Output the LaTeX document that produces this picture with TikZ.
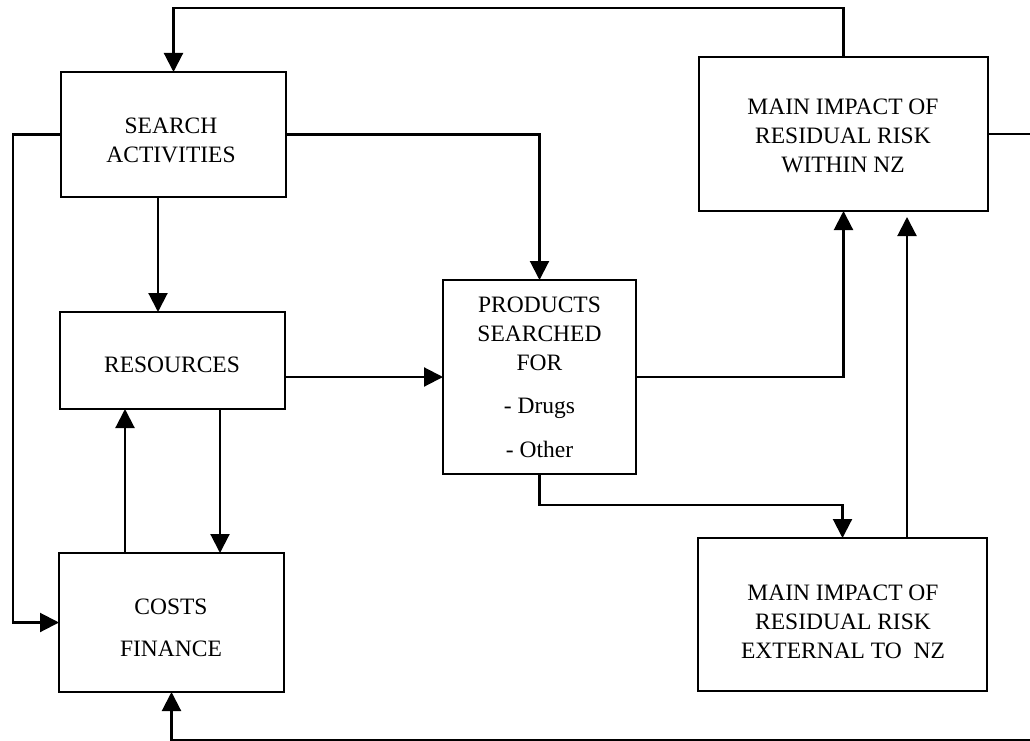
\documentclass[tikz,border=0pt]{standalone}
\usepackage{fontspec}
\setmainfont{Liberation Serif}
\usetikzlibrary{arrows.meta}
\begin{document}
\begin{tikzpicture}[x=1pt,y=-1pt,
  box/.style={draw, line width=2.1pt, inner sep=0pt, outer sep=0pt},
  txt/.style={align=center, inner sep=0pt, font=\fontsize{23.5}{29}\selectfont},
  arr/.style={line width=2.1pt, -{Triangle[length=19pt,width=19pt]}}]
\fill[white] (0,0) rectangle (1030,741);
\useasboundingbox (0,0) rectangle (1030,741);

% boxes
\node[box, minimum width=225pt, minimum height=125pt] (search) at (173.5,134.5) {};
\node[box, minimum width=225pt, minimum height=97pt] (resources) at (172.5,360.5) {};
\node[box, minimum width=225pt, minimum height=139pt] (costs) at (171.5,622.5) {};
\node[box, minimum width=193pt, minimum height=194pt] (products) at (539.5,377) {};
\node[box, minimum width=289pt, minimum height=154pt] (within) at (843.5,134) {};
\node[box, minimum width=289pt, minimum height=153pt] (external) at (842.5,614.5) {};

% texts
\node[txt] (searchT) at (171,140.5) {SEARCH\\ACTIVITIES};
\node[txt] (resourcesT) at (172,365) {RESOURCES};
\node[txt] (costsT) at (171,627.5) {COSTS\\[13pt]FINANCE};
\node[txt] (productsT) at (539.5,377.5) {PRODUCTS\\SEARCHED\\FOR\\[14pt]- Drugs\\[15pt]- Other};
\node[txt] (withinT) at (843,136) {MAIN IMPACT OF\\RESIDUAL RISK\\WITHIN NZ};
\node[txt] (externalT) at (843,621.5) {MAIN IMPACT OF\\RESIDUAL RISK\\EXTERNAL TO\ \ NZ};

% helper coordinates
\coordinate (topY) at (0,8);
\coordinate (leftX) at (13,0);
\coordinate (sx) at (158,0);
\coordinate (cx1) at (125,0);
\coordinate (cx2) at (220,0);
\coordinate (rx) at (907,0);
\coordinate (midY) at (0,505);
\coordinate (br) at (1045,740);

% connectors
\draw[arr] (within.north) -- (within.north |- topY) -| (search.north);
\draw[arr] (search.west) -- (search.west -| leftX) |- (costs.west);
\draw[arr] (search.east) -| (products.north);
\draw[arr] (search.south -| sx) -- (resources.north -| sx);
\draw[arr] (products.west -| resources.east) -- (products.west);
\draw[arr] (costs.north -| cx1) -- (resources.south -| cx1);
\draw[arr] (resources.south -| cx2) -- (costs.north -| cx2);
\draw[arr] (products.east) -| (within.south);
\draw[arr] (products.south) -- (products.south |- midY) -| (external.north);
\draw[arr, shorten >=6pt] (external.north -| rx) -- (within.south -| rx);
\draw[arr] (within.east) -| (br) -| (costs.south);
\end{tikzpicture}
\end{document}
